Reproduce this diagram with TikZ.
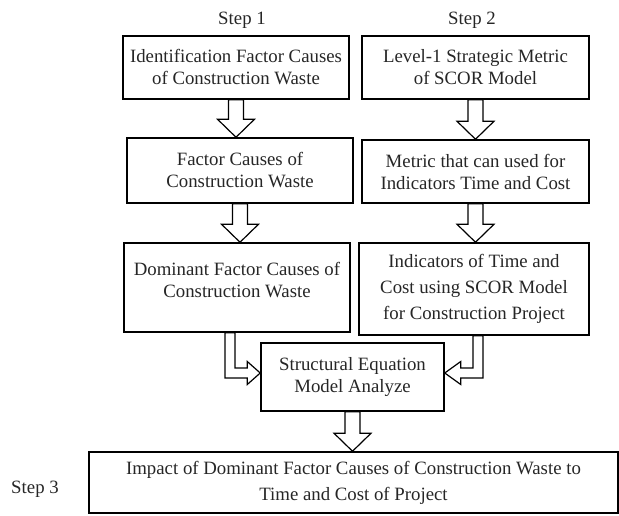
\documentclass[tikz,border=0pt]{standalone}
\usepackage{fontspec}
\setmainfont{Liberation Serif}
\usetikzlibrary{positioning,calc}

% hollow block arrow pointing down, from #1 to the tip #2
\newcommand{\hollowdown}[2]{%
	\draw[hollow] let \p1=(#1), \p2=(#2) in
		(\x1-7.5pt,\y1) -- (\x1-7.5pt,\y2+18pt) -- (\x1-18.5pt,\y2+18pt) -- (\x1,\y2)
		-- (\x1+18.5pt,\y2+18pt) -- (\x1+7.5pt,\y2+18pt) -- (\x1+7.5pt,\y1) -- cycle;%
}

\begin{document}
\begin{tikzpicture}[x=1pt,y=-1pt,
		font=\fontsize{18.8}{22}\selectfont,
		stepbox/.style={draw, line width=1.5pt, inner sep=0pt, align=center, text=black!85},
		steplabel/.style={text=black!85},
		hollow/.style={draw, line width=1.2pt, fill=white, line join=miter},
	]
	\useasboundingbox (0,0) rectangle (619,516);

	\node[steplabel] (s1) at (242,20) {Step 1};
	\node[steplabel] (s2) at (472,20) {Step 2};
	\node[steplabel] (s3) at (35,489) {Step 3};

	\node[stepbox, minimum width=226, minimum height=63] (ident) at (236,67.5) {Identification Factor Causes\\of Construction Waste};
	\node[stepbox, minimum width=227, minimum height=63] (level) at (475.5,67.5) {Level-1 Strategic Metric\\of SCOR Model};
	\node[stepbox, minimum width=226, minimum height=65] (factor) at (240,170.5) {Factor Causes of\\Construction Waste};
	\node[stepbox, minimum width=227, minimum height=63] (metric) at (475.5,171.5) {Metric that can used for\\Indicators Time and Cost};
	\node[stepbox, minimum width=226, minimum height=89] (domin) at (237,287.5) {};
	\node[align=center, text=black!85] (domtext) at (237,280) {Dominant Factor Causes of\\Construction Waste};
	\node[stepbox, minimum width=230, minimum height=92, font=\fontsize{18.8}{26}\selectfont] (indic) at (474,289) {Indicators of Time and\\Cost using SCOR Model\\for Construction Project};
	\node[stepbox, minimum width=183, minimum height=68] (sem) at (352.5,377) {Structural Equation\\Model Analyze};
	\node[stepbox, minimum width=529, minimum height=61, font=\fontsize{18.8}{26}\selectfont] (impact) at (353.5,482.5) {Impact of Dominant Factor Causes of Construction Waste to\\Time and Cost of Project};

	\hollowdown{ident.south}{ident.south |- factor.north}
	\hollowdown{level.south}{level.south |- metric.north}
	\hollowdown{factor.south}{factor.south |- domin.north}
	\hollowdown{metric.south}{metric.south |- indic.north}
	\hollowdown{sem.south}{sem.south |- impact.north}

	% bent arrows into the SEM box
	\draw[hollow] let \p1=($(domin.south)+(-7,0)$), \p2=($(sem.west)+(0,-4)$) in
		(\x1-5pt,\y1) -- (\x1-5pt,\y2-5pt) -- (\x2-13pt,\y2-5pt) -- (\x2-13pt,\y2-11.5pt) -- (\p2)
		-- (\x2-13pt,\y2+11.5pt) -- (\x2-13pt,\y2+5pt) -- (\x1+5pt,\y2+5pt) -- (\x1+5pt,\y1) -- cycle;
	\draw[hollow] let \p1=($(indic.south)+(4,0)$), \p2=($(sem.east)+(0,-4)$) in
		(\x1+5pt,\y1) -- (\x1+5pt,\y2-5pt) -- (\x2+16pt,\y2-5pt) -- (\x2+16pt,\y2-11.5pt) -- (\p2)
		-- (\x2+16pt,\y2+11.5pt) -- (\x2+16pt,\y2+5pt) -- (\x1-5pt,\y2+5pt) -- (\x1-5pt,\y1) -- cycle;
\end{tikzpicture}
\end{document}
